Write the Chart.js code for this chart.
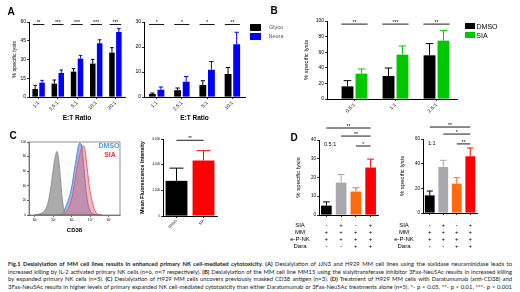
<!DOCTYPE html>
<html lang="en">
<head>
<meta charset="UTF-8" />
<title>Fig.1 Desialylation of MM cell lines</title>
<script src="https://cdn.jsdelivr.net/npm/chart.js"></script>
<style>
  body { margin: 0; background: #fff; font-family: 'Liberation Sans', Arial, sans-serif; }
  #fig { position: relative; width: 520px; height: 292px; overflow: hidden; background: #fff; }
  canvas { position: absolute; }
  .lbl { position: absolute; white-space: nowrap; line-height: 1; transform: translate(-50%, -50%); }
  .letter { font-weight: bold; font-size: 10px; }
  .sw { position: absolute; }
  #caption { position: absolute; left: 8px; top: 260px; width: 504px; font-family: Lato, 'Liberation Sans', sans-serif; font-size: 5.85px; line-height: 7.6px; color: #1a1a1a; }
  #caption div { white-space: nowrap; text-align: justify; text-align-last: justify; }
</style>
</head>
<body>
<div id="fig">
  <canvas id="chartA1"></canvas>
  <canvas id="chartA2"></canvas>
  <canvas id="chartB"></canvas>
  <canvas id="chartC1"></canvas>
  <canvas id="chartC2"></canvas>
  <canvas id="chartD1"></canvas>
  <canvas id="chartD2"></canvas>

  <div class="lbl letter" style="left:11px;top:12px">A</div>
  <div class="lbl letter" style="left:274px;top:11px">B</div>
  <div class="lbl letter" style="left:13px;top:136px">C</div>
  <div class="lbl letter" style="left:294px;top:138px">D</div>

  <!-- legend A -->
  <div class="sw" style="left:250px;top:24px;width:11px;height:7px;background:#000"></div>
  <div class="sw" style="left:250px;top:33px;width:11px;height:7px;background:#0000ff"></div>
  <div class="lbl" style="left:276px;top:27.5px;font-size:5.5px;color:#555">Glyco</div>
  <div class="lbl" style="left:276px;top:36.5px;font-size:5.5px;color:#555">Neura</div>

  <!-- legend B -->
  <div class="sw" style="left:465px;top:23px;width:10px;height:6px;background:#000"></div>
  <div class="sw" style="left:465px;top:32px;width:10px;height:6px;background:#00c800"></div>
  <div class="lbl" style="left:487px;top:26px;font-size:7px">DMSO</div>
  <div class="lbl" style="left:482px;top:35px;font-size:7px">SIA</div>

  <!-- legend C -->
  <div class="lbl" style="left:109px;top:145px;font-size:7px;font-weight:bold;color:#4a9be8">DMSO</div>
  <div class="lbl" style="left:110px;top:153.5px;font-size:7px;font-weight:bold;color:#ee3340">SIA</div>

  <div id="caption">
    <div><b>Fig.1 Desialylation of MM cell lines results in enhanced primary NK cell-mediated cytotoxicity. (A)</b> Desialylation of JJN3 and H929 MM cell lines using the sialidase neuraminidase leads to</div>
    <div>increased killing by IL-2 activated primary NK cells (n=6, n=7 respectively). <b>(B)</b> Desialylation of the MM cell line MM15 using the sialyltransferase inhibitor 3Fax-Neu5Ac results in increased killing</div>
    <div>by expanded primary NK cells (n=5). <b>(C)</b> Desialylation of H929 MM cells uncovers previously masked CD38 antigen (n=3). <b>(D)</b> Treatment of H929 MM cells with Daratumumab (anti-CD38) and</div>
    <div>3Fax-Neu5Ac results in higher levels of primary expanded NK cell-mediated cytotoxicity than either Daratumumab or 3Fax-Neu5Ac treatments alone (n=5). *- p &lt; 0.05, **- p &lt; 0.01, ***- p &lt; 0.001</div>
  </div>
</div>

<script>
  // ---- A: JJN3 (left) and H929 (right), % specific lysis by E:T ratio ----
  const ratiosA1 = ['1:1', '2.5:1', '5:1', '10:1', '20:1'];
  const glycoA1 = [6.4, 10.7, 20.3, 26.7, 35.5];
  const glycoA1Err = [2.9, 2.9, 2.4, 3.4, 4.0];
  const neuraA1 = [11.5, 19.2, 30.7, 43.0, 52.0];
  const neuraA1Err = [1.8, 2.4, 2.6, 2.8, 2.7];
  const sigA1 = ['**', '***', '***', '***', '***'];

  const ratiosA2 = ['1:1', '2.5:1', '5:1', '10:1'];
  const glycoA2 = [1.2, 2.7, 4.8, 9.2];
  const glycoA2Err = [0.4, 0.9, 1.7, 2.6];
  const neuraA2 = [2.9, 6.1, 10.9, 21.1];
  const neuraA2Err = [1.1, 2.1, 3.3, 4.8];
  const sigA2 = ['*', '*', '*', '**'];

  // ---- B: MM15 ----
  const ratiosB = ['0.5:1', '1:1', '2.5:1'];
  const dmsoB = [16.2, 29.5, 56.0];
  const dmsoBErr = [7.3, 10.2, 15.0];
  const siaB = [32.5, 56.8, 74.8];
  const siaBErr = [6.0, 11.2, 13.2];
  const sigB = ['**', '***', '**'];

  // ---- C: CD38 histogram (x in log10 units, y in % of max) ----
  const cd38LogX =    [1.0, 1.1, 1.2, 1.3, 1.4, 1.5, 1.6, 1.7, 1.8, 1.9, 2.0, 2.1, 2.2, 2.3, 2.4, 2.5, 2.6, 2.7, 2.8, 2.9, 3.0, 3.1, 3.2, 3.3, 3.4, 3.5, 3.6, 3.7, 3.8, 3.9, 4.0, 4.1, 4.2, 4.3, 4.4, 4.5, 4.6];
  const cd38Isotype = [0,   0,   1,   2,   3,   5,   9,   16,  28,  45,  64,  80,  87,  72,  44,  18,  5,   1,   0,   0,   0,   0,   0,   0,   0,   0,   0,   0,   0,   0,   0,   0,   0,   0,   0,   0,   0];
  const cd38Dmso =    [0,   0,   0,   0,   0,   0,   0,   0,   0,   0,   0,   0,   0,   0,   1,   3,   7,   13,  20,  28,  40,  56,  72,  87,  98,  97,  78,  50,  26,  12,  5,   2,   1,   0,   0,   0,   0];
  const cd38Sia =     [0,   0,   0,   0,   0,   0,   0,   0,   0,   0,   0,   0,   0,   0,   0,   1,   2,   5,   9,   15,  24,  38,  53,  68,  80,  90,  95,  90,  70,  48,  30,  18,  9,   4,   1,   0,   0];
  const cd38Ticks = ['10¹', '10²', '10³', '10⁴', '10⁵'];
  const histYTicks = [0, 20, 40, 60, 80, 100];

  const mfiGroups = ['DMSO', 'SIA'];
  const mfiValues = [2740, 4330];
  const mfiErr = [990, 760];

  // ---- D: H929 with Daratumumab / 3Fax-Neu5Ac ----
  const treatments = ['SIA', 'MM', 'e-P-NK', 'Dara'];
  const treatmentSigns = [
    ['-', '+', '-', '+'],
    ['+', '+', '+', '+'],
    ['+', '+', '+', '+'],
    ['-', '-', '+', '+']
  ];
  const lysisD05 = [5.0, 17.3, 12.5, 25.3];
  const lysisD05Err = [2.0, 4.3, 2.0, 4.5];
  const lysisD11 = [14.3, 37.3, 23.8, 46.0];
  const lysisD11Err = [3.5, 5.4, 4.8, 6.7];
  const barColorsD = ['#000000', '#a7a7ad', '#ff6a10', '#ff0000'];
  const sigD05 = [[0, 3, 46.4, '**'], [1, 3, 42.1, '**'], [2, 3, 36.8, '*']];
  const sigD11 = [[0, 3, 69.7, '**'], [1, 3, 64.0, '*'], [2, 3, 56.0, '**']];

  Chart.defaults.font.family = "'Liberation Sans', Arial, sans-serif";
  Chart.defaults.color = '#000';
  Chart.defaults.animation = false;
  Chart.defaults.plugins.legend.display = false;
  Chart.defaults.plugins.tooltip.enabled = false;

  // upper error bars with caps
  const errPlugin = {
    id: 'errbars',
    afterDatasetsDraw(chart) {
      const ctx = chart.ctx, y = chart.scales.y;
      chart.data.datasets.forEach((ds, di) => {
        if (!ds.errors) return;
        const meta = chart.getDatasetMeta(di);
        meta.data.forEach((bar, i) => {
          const top = y.getPixelForValue(ds.data[i].y + ds.errors[i]);
          const cap = bar.width * 0.32;
          const col = Array.isArray(ds.backgroundColor) ? ds.backgroundColor[i] : ds.backgroundColor;
          ctx.save();
          ctx.strokeStyle = col;
          ctx.lineWidth = 1;
          ctx.beginPath();
          ctx.moveTo(bar.x, bar.y);
          ctx.lineTo(bar.x, top);
          ctx.moveTo(bar.x - cap, top);
          ctx.lineTo(bar.x + cap, top);
          ctx.stroke();
          ctx.restore();
        });
      });
    }
  };

  // significance brackets, stars, notes and the +/- table under D
  const annoPlugin = {
    id: 'anno',
    afterDraw(chart, args, opts) {
      const { ctx, chartArea, scales: { x, y } } = chart;
      ctx.save();
      (opts.marks || []).forEach(([from, to, level, text]) => {
        const x1 = x.getPixelForValue(from), x2 = x.getPixelForValue(to), py = y.getPixelForValue(level);
        ctx.strokeStyle = '#000';
        ctx.lineWidth = 0.9;
        ctx.beginPath();
        ctx.moveTo(x1, py);
        ctx.lineTo(x2, py);
        ctx.stroke();
        ctx.fillStyle = '#000';
        ctx.font = (opts.starSize || 5) + "px 'Liberation Sans'";
        ctx.textAlign = 'center';
        ctx.textBaseline = 'bottom';
        ctx.fillText(text, (x1 + x2) / 2, py + 1);
      });
      if (opts.note) {
        ctx.fillStyle = '#000';
        ctx.font = "5.5px 'Liberation Sans'";
        ctx.textAlign = 'left';
        ctx.textBaseline = 'middle';
        ctx.fillText(opts.note, chartArea.left + 5, chartArea.top + 4);
      }
      if (opts.rows) {
        ctx.fillStyle = '#000';
        ctx.font = "6px 'Liberation Sans'";
        ctx.textAlign = 'center';
        ctx.textBaseline = 'middle';
        opts.rows.forEach((name, ri) => {
          const py = chartArea.bottom + opts.rowTop + ri * 7;
          ctx.fillText(name, chartArea.left - 19, py);
          opts.signs[ri].forEach((s, i) => ctx.fillText(s, x.getPixelForValue(i), py));
        });
      }
      ctx.restore();
    }
  };

  const framePlugin = {
    id: 'frame',
    afterDraw(chart) {
      const { ctx, chartArea: a } = chart;
      ctx.save();
      ctx.strokeStyle = '#444';
      ctx.lineWidth = 0.6;
      ctx.strokeRect(a.left, a.top, a.right - a.left, a.bottom - a.top);
      ctx.restore();
    }
  };

  // size a canvas and work out paddings so the plot area lands where it should
  function place(id, box, area) {
    const c = document.getElementById(id);
    c.width = box.w; c.height = box.h;
    c.style.left = box.l + 'px'; c.style.top = box.t + 'px';
    c.style.width = box.w + 'px'; c.style.height = box.h + 'px';
    return {
      canvas: c,
      padding: { left: 0, top: area.t - box.t, right: box.l + box.w - area.r, bottom: 0 },
      yWidth: area.l - box.l,
      xHeight: box.t + box.h - area.b
    };
  }

  function yAxis(fr, max, step, o = {}) {
    return {
      min: 0, max,
      ticks: { stepSize: step, font: { size: o.tickSize || 5 }, padding: 1 },
      grid: { drawOnChartArea: false, tickLength: 2, color: '#000', lineWidth: 0.8 },
      border: { color: '#000', width: 1 },
      title: o.title
        ? { display: true, text: o.title, font: { size: o.titleSize || 5.5, weight: o.titleBold ? 'bold' : 'normal' }, padding: { top: o.titlePad || 1, bottom: 0 } }
        : { display: false },
      afterFit: s => { s.width = fr.yWidth; }
    };
  }

  function xAxis(fr, labels, lo, hi, o = {}) {
    return {
      type: 'linear', min: lo, max: hi, offset: false,
      afterBuildTicks: s => { s.ticks = labels.map((_, i) => ({ value: i })); },
      ticks: {
        display: o.showLabels !== false,
        callback: v => labels[v], autoSkip: false,
        minRotation: 45, maxRotation: 45, font: { size: o.tickSize || 5 }, padding: 1
      },
      grid: { drawOnChartArea: false, offset: false, tickLength: 2, color: '#000', lineWidth: 0.8 },
      border: { color: '#000', width: 1 },
      title: o.title
        ? { display: true, text: o.title, font: { size: 6.5, weight: 'bold' }, padding: { top: 0, bottom: 0 } }
        : { display: false },
      afterFit: s => { s.height = fr.xHeight; }
    };
  }

  const pts = arr => arr.map((v, i) => ({ x: i, y: v }));

  function groupedBars(id, box, area, cfg) {
    const fr = place(id, box, area);
    return new Chart(fr.canvas, {
      type: 'bar',
      data: {
        datasets: cfg.series.map(s => ({
          data: pts(s.values), errors: s.errors, backgroundColor: s.color,
          borderWidth: 0, categoryPercentage: cfg.catPct, barPercentage: cfg.barPct
        }))
      },
      options: {
        responsive: false,
        layout: { padding: fr.padding },
        scales: {
          x: xAxis(fr, cfg.labels, cfg.xMin, cfg.xMax, { title: cfg.xTitle, showLabels: cfg.showLabels, tickSize: cfg.xTick }),
          y: yAxis(fr, cfg.yMax, cfg.yStep, cfg.y || {})
        },
        plugins: { anno: cfg.anno || {} }
      },
      plugins: [errPlugin, annoPlugin]
    });
  }

  // A left
  groupedBars('chartA1', { l: 10, t: 10, w: 120, h: 112 }, { l: 29, t: 22, r: 125, b: 97 }, {
    labels: ratiosA1, xMin: -0.5, xMax: 4.5, xTitle: 'E:T Ratio', catPct: 0.72, barPct: 0.8,
    series: [
      { values: glycoA1, errors: glycoA1Err, color: '#000000' },
      { values: neuraA1, errors: neuraA1Err, color: '#0000ff' }
    ],
    yMax: 60, yStep: 15, y: { title: '% specific lysis', titleSize: 5.5 },
    anno: { marks: sigA1.map((t, i) => [i - 0.3, i + 0.3, 58, t]) }
  });

  // A right
  groupedBars('chartA2', { l: 128, t: 10, w: 122, h: 112 }, { l: 144, t: 22, r: 245, b: 97 }, {
    labels: ratiosA2, xMin: -0.5, xMax: 3.5, xTitle: 'E:T Ratio', catPct: 0.68, barPct: 0.8,
    series: [
      { values: glycoA2, errors: glycoA2Err, color: '#000000' },
      { values: neuraA2, errors: neuraA2Err, color: '#0000ff' }
    ],
    yMax: 30, yStep: 10,
    anno: { marks: sigA2.map((t, i) => [i - 0.3, i + 0.3, 29, t]) }
  });

  // B
  groupedBars('chartB', { l: 302, t: 8, w: 160, h: 112 }, { l: 327, t: 21, r: 457, b: 99 }, {
    labels: ratiosB, xMin: -0.67, xMax: 2.5, catPct: 0.68, barPct: 0.85,
    series: [
      { values: dmsoB, errors: dmsoBErr, color: '#000000' },
      { values: siaB, errors: siaBErr, color: '#00c800' }
    ],
    yMax: 100, yStep: 20, y: { title: '% specific lysis', titleSize: 6 },
    anno: { marks: sigB.map((t, i) => [i - 0.32, i + 0.32, 96, t]) }
  });

  // C histogram
  (function () {
    const fr = place('chartC1', { l: 14, t: 134, w: 112, h: 100 }, { l: 29, t: 142, r: 120, b: 215 });
    const series = (vals, line, fill) => ({
      data: vals.map((v, i) => ({ x: cd38LogX[i], y: v })),
      borderColor: line, backgroundColor: fill, borderWidth: 0.9,
      fill: 'origin', pointRadius: 0, tension: 0.4
    });
    new Chart(fr.canvas, {
      type: 'line',
      data: {
        datasets: [
          series(cd38Isotype, '#8a8a8a', 'rgba(150,150,150,0.8)'),
          series(cd38Sia, '#f05060', 'rgba(240,90,100,0.45)'),
          series(cd38Dmso, '#2f80e0', 'rgba(60,120,220,0.5)')
        ]
      },
      options: {
        responsive: false,
        layout: { padding: fr.padding },
        scales: {
          x: {
            type: 'linear', min: 0.68, max: 5.6,
            afterBuildTicks: s => { s.ticks = cd38Ticks.map((_, i) => ({ value: i + 1 })); },
            ticks: { callback: (v) => cd38Ticks[v - 1], font: { size: 3.5 }, padding: 1, maxRotation: 0, autoSkip: false },
            grid: { drawOnChartArea: false, tickLength: 2, color: '#000', lineWidth: 0.6 },
            border: { color: '#444', width: 0.6 },
            title: { display: true, text: 'CD38', font: { size: 6, weight: 'bold' }, padding: { top: 0, bottom: 0 } },
            afterFit: s => { s.height = fr.xHeight; }
          },
          y: {
            min: 0, max: 100,
            afterBuildTicks: s => { s.ticks = histYTicks.map(v => ({ value: v })); },
            ticks: { font: { size: 3 }, padding: 1 },
            grid: { drawOnChartArea: false, tickLength: 2, color: '#000', lineWidth: 0.6 },
            border: { color: '#444', width: 0.6 },
            afterFit: s => { s.width = fr.yWidth; }
          }
        }
      },
      plugins: [framePlugin]
    });
  })();

  // C MFI
  (function () {
    const fr = place('chartC2', { l: 138, t: 132, w: 84, h: 100 }, { l: 163, t: 139, r: 217, b: 216 });
    new Chart(fr.canvas, {
      type: 'bar',
      data: {
        datasets: [{
          data: pts(mfiValues), errors: mfiErr, backgroundColor: ['#000000', '#ff0000'],
          borderWidth: 0, categoryPercentage: 0.9, barPercentage: 0.9
        }]
      },
      options: {
        responsive: false,
        layout: { padding: fr.padding },
        scales: {
          x: xAxis(fr, mfiGroups, -0.5, 1.5, { tickSize: 3.5 }),
          y: yAxis(fr, 6000, 2000, { tickSize: 3, title: 'Mean Fluorescence Intensity', titleSize: 5.3, titleBold: true })
        },
        plugins: { anno: { marks: [[0, 1, 5900, '**']], starSize: 4.5 } }
      },
      plugins: [errPlugin, annoPlugin]
    });
  })();

  // D left (0.5:1) and right (1:1)
  function panelD(id, box, area, values, errors, yMax, yStep, marks, note, rowTop) {
    const fr = place(id, box, area);
    return new Chart(fr.canvas, {
      type: 'bar',
      data: {
        datasets: [{
          data: pts(values), errors, backgroundColor: barColorsD,
          borderWidth: 0, categoryPercentage: 0.85, barPercentage: 0.85
        }]
      },
      options: {
        responsive: false,
        layout: { padding: fr.padding },
        scales: {
          x: xAxis(fr, treatments, -0.5, 3.5, { showLabels: false }),
          y: yAxis(fr, yMax, yStep, { tickSize: 4.5, title: '% specific lysis', titleSize: 6, titlePad: 8.5 })
        },
        plugins: { anno: { marks, note, rows: treatments, signs: treatmentSigns, rowTop } }
      },
      plugins: [errPlugin, annoPlugin]
    });
  }
  panelD('chartD1', { l: 286, t: 120, w: 96, h: 134 }, { l: 319, t: 140, r: 378, b: 215 },
    lysisD05, lysisD05Err, 40, 10, sigD05, '0.5:1', 10);
  panelD('chartD2', { l: 390, t: 120, w: 92, h: 134 }, { l: 423, t: 139, r: 477, b: 213 },
    lysisD11, lysisD11Err, 60, 20, sigD11, '1:1', 12);
</script>
</body>
</html>
